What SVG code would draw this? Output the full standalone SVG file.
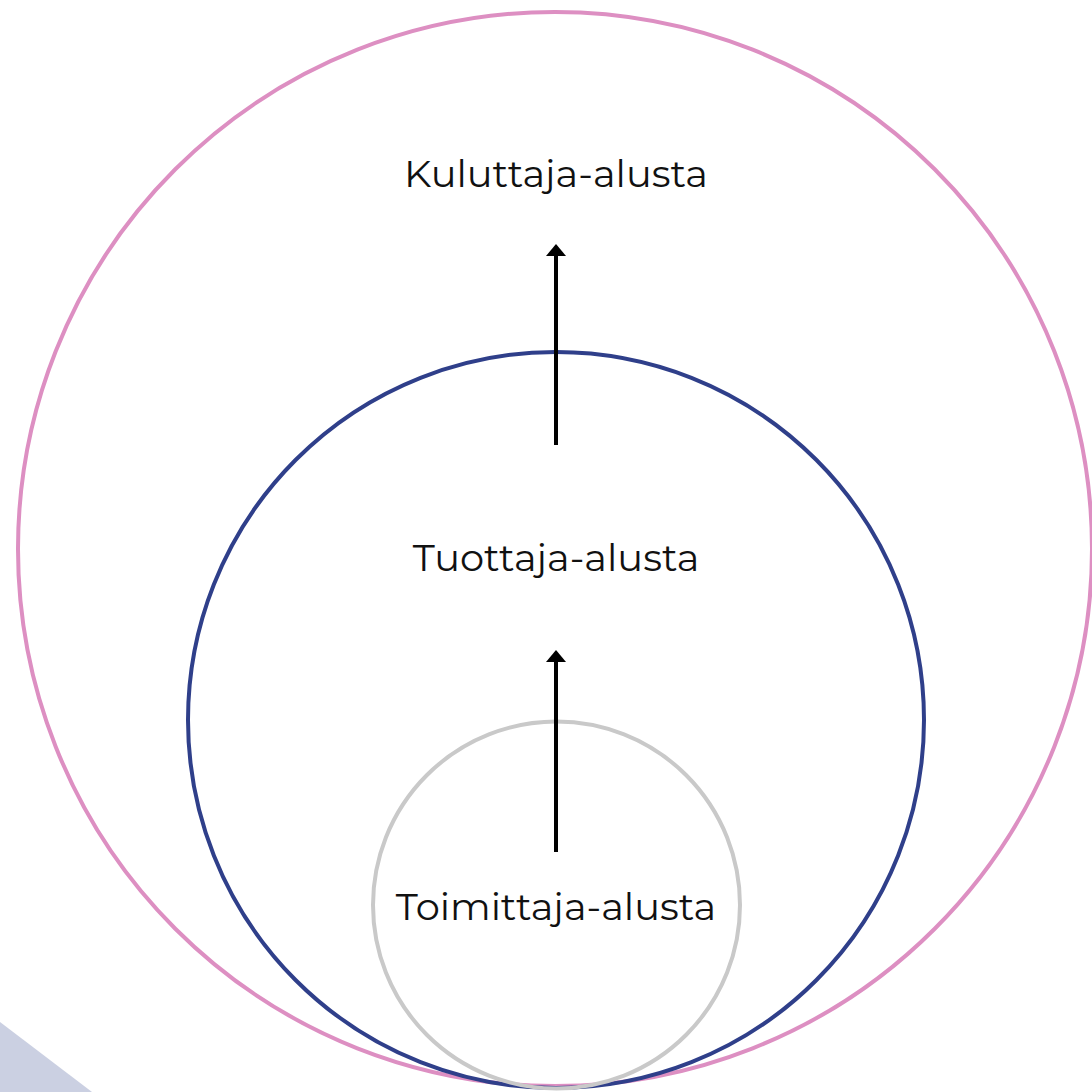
<svg xmlns="http://www.w3.org/2000/svg" width="1092" height="1092" viewBox="0 0 1092 1092">
<style>
.lbl{font-family:"Montserrat","Noto Sans","Liberation Sans",sans-serif;font-size:38.4px;fill:#111;text-anchor:middle}
.arr{stroke:#000;stroke-width:4;fill:none}
</style>
<rect width="1092" height="1092" fill="#fff"/>
<polygon points="0,1022 92,1092 0,1092" fill="#cbd0e2"/>
<g id="kuluttaja">
<circle cx="555" cy="549" r="537" fill="none" stroke="#dd8fc2" stroke-width="4"/>
<text class="lbl" x="556" y="187">Kuluttaja-alusta</text>
</g>
<g id="tuottaja">
<circle cx="556" cy="720" r="368" fill="none" stroke="#2f3f8a" stroke-width="4"/>
<text class="lbl" x="556" y="571">Tuottaja-alusta</text>
</g>
<g id="toimittaja">
<circle cx="556.5" cy="905" r="183.5" fill="none" stroke="#c9c9c9" stroke-width="4"/>
<text class="lbl" x="556" y="920">Toimittaja-alusta</text>
</g>
<g id="connectors">
<line x1="556" y1="445" x2="556" y2="256" class="arr"/>
<polygon points="556,244 566,256 546,256" fill="#000"/>
<line x1="556" y1="852" x2="556" y2="662" class="arr"/>
<polygon points="556,650 566,662 546,662" fill="#000"/>
</g>
</svg>
